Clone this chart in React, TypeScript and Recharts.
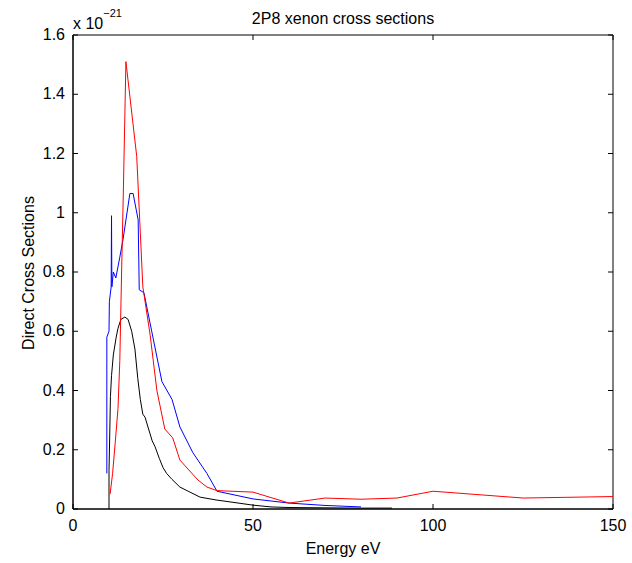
import React from 'react'
import { LineChart, Line, XAxis, YAxis, ReferenceArea } from 'recharts'

// energies (eV) and cross sections (units of 1e-21)
const blackE = [10, 10, 10.2, 10.4, 10.7, 11.2, 12, 12.5, 13.3, 14.4, 15.3, 16.3, 17.2, 18, 18.7, 19.4, 20, 21, 22, 22.8, 24, 25, 26, 27.5, 29.7, 32, 35.3, 40, 43.6, 50, 55, 60, 70, 80, 88.6]
const blackV = [0, 0.13, 0.25, 0.38, 0.45, 0.52, 0.58, 0.61, 0.64, 0.648, 0.64, 0.6, 0.54, 0.44, 0.37, 0.32, 0.31, 0.27, 0.23, 0.21, 0.17, 0.14, 0.12, 0.1, 0.074, 0.06, 0.04, 0.03, 0.024, 0.013, 0.007, 0.005, 0.004, 0.003, 0.003]

const blueE = [9.4, 9.4, 10, 10.1, 10.6, 10.7, 10.8, 11.2, 11.9, 13, 13.9, 15.8, 16.7, 18.1, 18.4, 19.7, 24.7, 27.5, 29.7, 33.3, 37.2, 40, 50, 60, 70, 80]
const blueV = [0.12, 0.58, 0.6, 0.7, 0.75, 0.99, 0.75, 0.8, 0.78, 0.85, 0.91, 1.065, 1.065, 0.976, 0.74, 0.73, 0.43, 0.37, 0.277, 0.19, 0.12, 0.06, 0.034, 0.02, 0.012, 0.007]

const redE = [10.3, 11, 11.7, 12.5, 13, 13.5, 14, 14.7, 17.7, 19.4, 21.4, 23.3, 25.5, 27.7, 29.7, 34.7, 37.2, 40, 50, 60, 70, 80, 90, 100, 125, 150]
const redV = [0.05, 0.12, 0.22, 0.34, 0.5, 0.8, 1.08, 1.51, 1.19, 0.75, 0.59, 0.4, 0.27, 0.24, 0.165, 0.098, 0.074, 0.062, 0.057, 0.02, 0.037, 0.033, 0.037, 0.06, 0.037, 0.042]

const xTicks = [0, 50, 100, 150]
const yTicks = [0, 0.2, 0.4, 0.6, 0.8, 1, 1.2, 1.4, 1.6]

const toPts = (e: number[], v: number[]) => e.map((x, i) => ({ x, y: v[i] }))
const black = toPts(blackE, blackV)
const blue = toPts(blueE, blueV)
const red = toPts(redE, redV)

const W = 632
const H = 563
const TOP = 35
const LEFT = 73
const RIGHT = 613
const BOTTOM = 509
const FONT = '"Liberation Sans", Arial, sans-serif'

const XTick = (props: any) => {
  const { x, y, payload } = props
  return (
    <g>
      <line x1={x} x2={x} y1={BOTTOM} y2={BOTTOM - 5} stroke="#000" />
      <line x1={x} x2={x} y1={TOP} y2={TOP + 5} stroke="#000" />
      <text x={x} y={y} dy={14} textAnchor="middle" fontSize={16} fontFamily={FONT} fill="#000">
        {payload.value}
      </text>
    </g>
  )
}

const YTick = (props: any) => {
  const { x, y, payload } = props
  return (
    <g>
      <line x1={LEFT} x2={LEFT + 5} y1={y} y2={y} stroke="#000" />
      <line x1={RIGHT} x2={RIGHT - 5} y1={y} y2={y} stroke="#000" />
      <text x={x} y={y} dy={5} textAnchor="end" fontSize={16} fontFamily={FONT} fill="#000">
        {Number(payload.value.toFixed(1)).toString()}
      </text>
    </g>
  )
}

export default function App() {
  return (
    <div style={{ position: 'absolute', left: 0, top: 0, background: '#fff' }}>
      <LineChart width={W} height={H} margin={{ top: TOP, right: W - RIGHT, left: 0, bottom: 0 }}>
        <XAxis
          type="number"
          dataKey="x"
          domain={[0, 150]}
          ticks={xTicks}
          height={H - BOTTOM}
          tickSize={0}
          tickMargin={8}
          tickLine={false}
          tick={<XTick />}
          stroke="#000"
          allowDataOverflow
        />
        <YAxis
          type="number"
          domain={[0, 1.6]}
          ticks={yTicks}
          width={LEFT}
          tickSize={0}
          tickMargin={8}
          tickLine={false}
          tick={<YTick />}
          stroke="#000"
          allowDataOverflow
        />
        <ReferenceArea x1={0} x2={150} y1={0} y2={1.6} fill="none" stroke="#000" strokeWidth={1} ifOverflow="visible" />
        <Line data={black} dataKey="y" stroke="#000" strokeWidth={1} dot={false} isAnimationActive={false} />
        <Line data={blue} dataKey="y" stroke="#0000ff" strokeWidth={1} dot={false} isAnimationActive={false} />
        <Line data={red} dataKey="y" stroke="#ff0000" strokeWidth={1} dot={false} isAnimationActive={false} />
        <text x={(LEFT + RIGHT) / 2} y={24} textAnchor="middle" fontSize={16} fontFamily={FONT} fill="#000">
          2P8 xenon cross sections
        </text>
        <text x={LEFT} y={29} fontSize={16} fontFamily={FONT} fill="#000">
          x 10<tspan dy={-12} fontSize={11}>−21</tspan>
        </text>
        <text x={(LEFT + RIGHT) / 2} y={554} textAnchor="middle" fontSize={16} fontFamily={FONT} fill="#000">
          Energy eV
        </text>
        <text
          x={34}
          y={273}
          textAnchor="middle"
          fontSize={16}
          fontFamily={FONT}
          fill="#000"
          transform="rotate(-90 34 273)"
        >
          Direct Cross Sections
        </text>
      </LineChart>
    </div>
  )
}
